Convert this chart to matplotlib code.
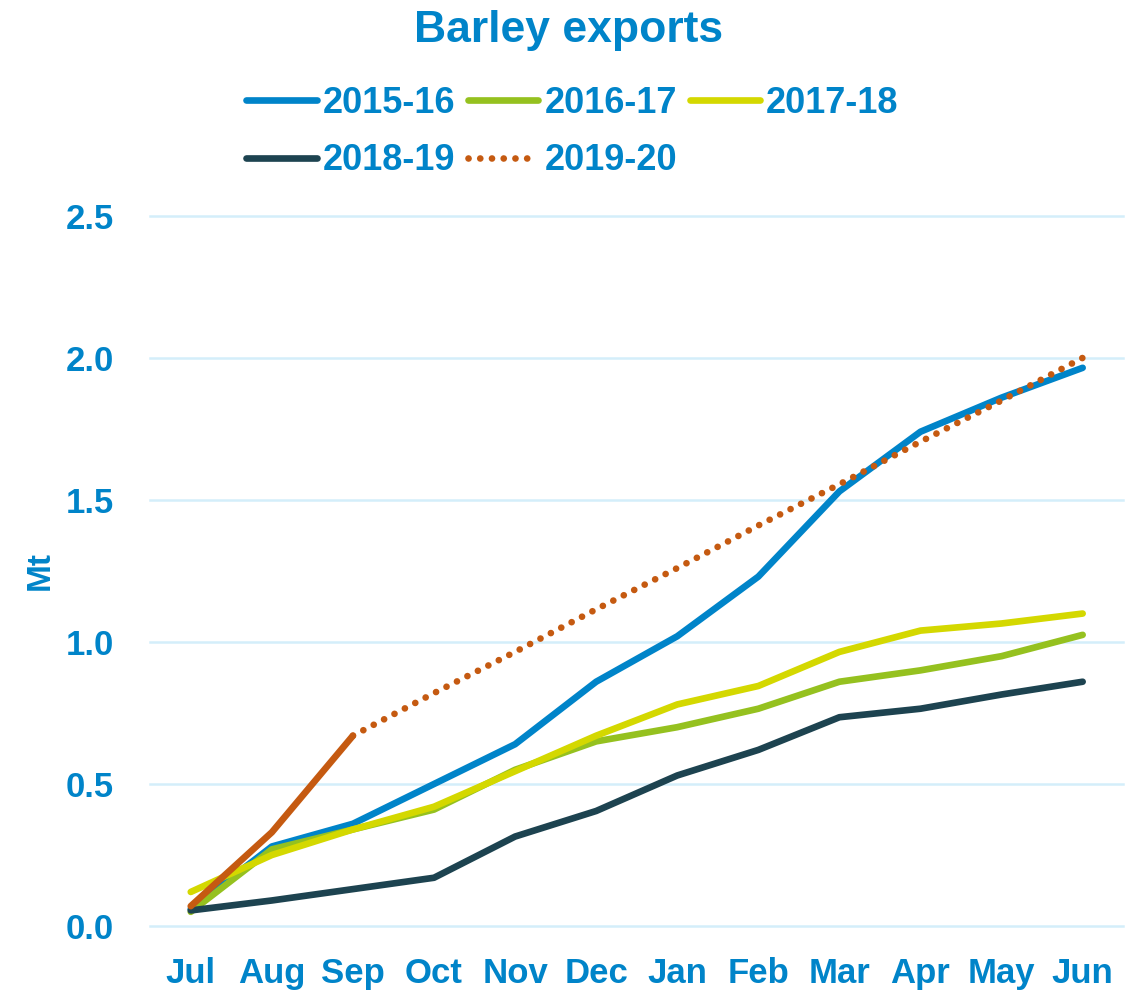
import matplotlib.pyplot as plt

# Data (Mt, cumulative)
months = ["Jul", "Aug", "Sep", "Oct", "Nov", "Dec", "Jan", "Feb", "Mar", "Apr", "May", "Jun"]
y2015 = [0.06, 0.28, 0.36, 0.50, 0.64, 0.86, 1.02, 1.23, 1.53, 1.74, 1.86, 1.965]
y2016 = [0.05, 0.27, 0.34, 0.41, 0.55, 0.65, 0.70, 0.765, 0.86, 0.90, 0.95, 1.025]
y2017 = [0.12, 0.25, 0.34, 0.42, 0.545, 0.67, 0.78, 0.845, 0.965, 1.04, 1.065, 1.10]
y2018 = [0.055, 0.09, 0.13, 0.17, 0.315, 0.405, 0.53, 0.62, 0.735, 0.765, 0.815, 0.86]
y2019_actual = [0.07, 0.33, 0.67]
y2019_forecast = [0.67, 0.82, 0.965, 1.115, 1.26, 1.41, 1.555, 1.705, 1.85, 2.0]

blue = "#0084C9"
green = "#95C11F"
yellow = "#D4D800"
dark = "#1D4350"
orange = "#C55A11"
grid_col = "#D4EEFA"

plt.rcParams["font.family"] = ["Liberation Sans", "DejaVu Sans"]
plt.rcParams["font.weight"] = "bold"

fig = plt.figure(figsize=(11.38, 9.9), dpi=100)
ax = fig.add_axes([0.132, 0.0646, 0.855, 0.7174])

x = list(range(len(months)))
lw = 4.8
l15, = ax.plot(x, y2015, color=blue, lw=lw, solid_capstyle="round", label="2015-16")
l16, = ax.plot(x, y2016, color=green, lw=lw, solid_capstyle="round", label="2016-17")
l17, = ax.plot(x, y2017, color=yellow, lw=lw, solid_capstyle="round", label="2017-18")
l18, = ax.plot(x, y2018, color=dark, lw=lw, solid_capstyle="round", label="2018-19")
ax.plot(x[:3], y2019_actual, color=orange, lw=lw, solid_capstyle="round")
l19, = ax.plot(x[2:], y2019_forecast, color=orange, lw=lw, linestyle=(0, (0.01, 1.75)),
               dash_capstyle="round", label="2019-20")

ax.set_xlim(-0.5, 11.5)
ax.set_ylim(0, 2.5)
ax.set_yticks([0, 0.5, 1.0, 1.5, 2.0, 2.5])
ax.set_yticklabels(["0.0", "0.5", "1.0", "1.5", "2.0", "2.5"])
ax.set_xticks(x)
ax.set_xticklabels(months)
ax.tick_params(axis="both", length=0, labelsize=25, labelcolor=blue)
ax.tick_params(axis="y", pad=26)
ax.tick_params(axis="x", pad=22)
for s in ax.spines.values():
    s.set_visible(False)
ax.grid(axis="y", color=grid_col, lw=1.8)
ax.set_axisbelow(True)
for line in ax.get_ygridlines():
    line.set_clip_on(False)

ax.set_ylabel("Mt", fontsize=24, color=blue, fontweight="bold")
ax.yaxis.set_label_coords(-0.097, 0.5)

fig.text(0.5, 0.969, "Barley exports", ha="center", va="center",
         fontsize=32, color=blue, fontweight="bold")

handles = [l15, l18, l16, l19, l17]
leg = fig.legend(handles, [h.get_label() for h in handles], ncol=3, loc="center",
                 bbox_to_anchor=(0.503, 0.8667), frameon=False, fontsize=26,
                 handlelength=1.95, handletextpad=0.17, columnspacing=0.35,
                 labelspacing=0.62, borderpad=0)
for t in leg.get_texts():
    t.set_color(blue)
    t.set_fontweight("bold")

plt.savefig("out.png", dpi=100)
